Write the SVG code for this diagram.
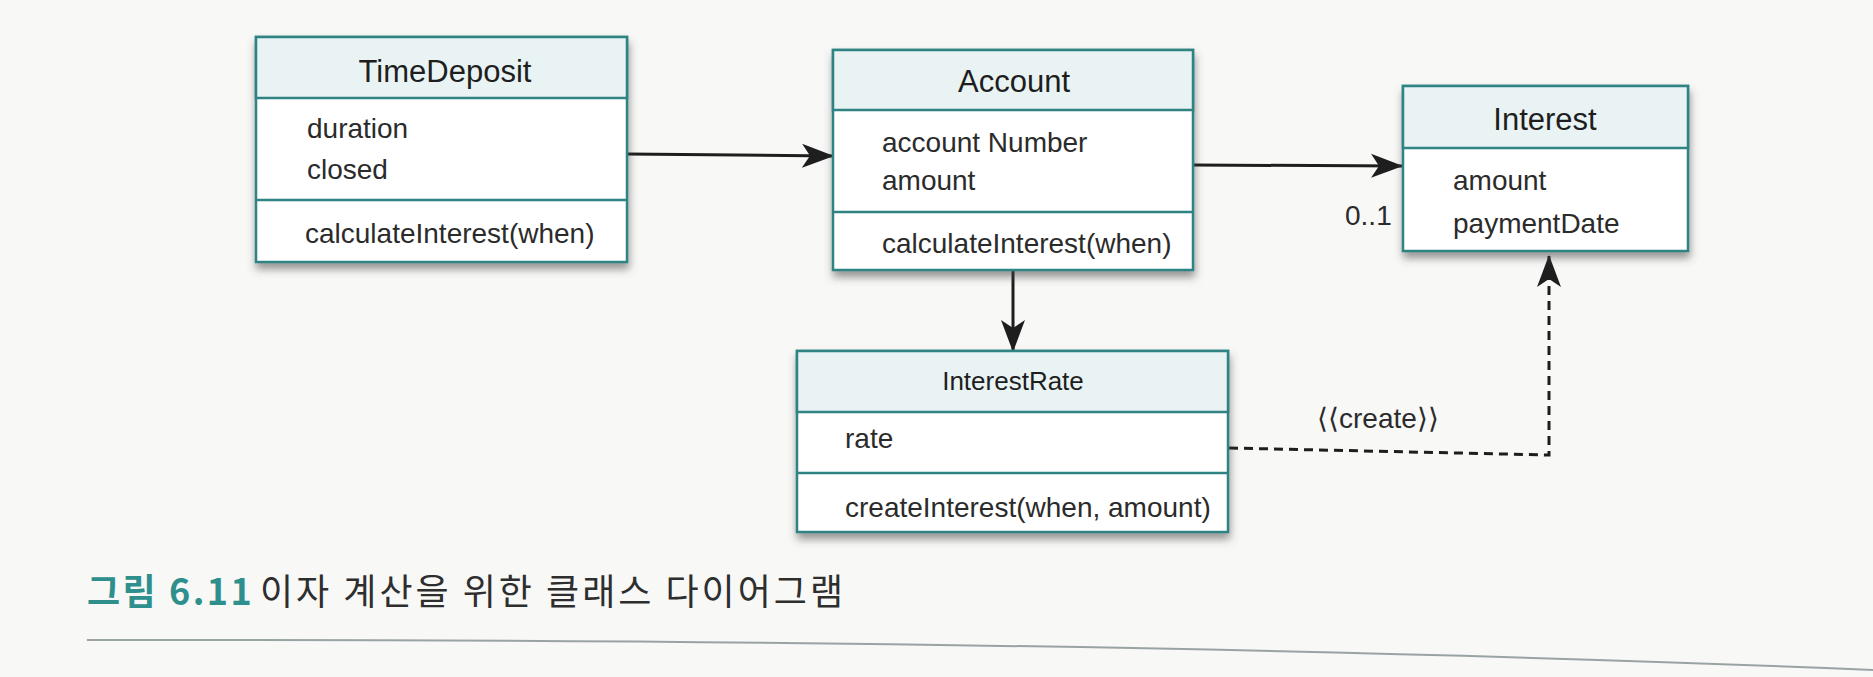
<svg xmlns="http://www.w3.org/2000/svg" width="1873" height="677" viewBox="0 0 1873 677">
  <defs>
    <style>
      .box { fill: #ffffff; stroke: #2f8383; stroke-width: 2.5; }
      .head { fill: #e9f3f4; stroke: #2f8383; stroke-width: 2.5; }
      .sep { stroke: #2f8383; stroke-width: 2.5; }
      .title { font-family: "Liberation Sans", Arial, sans-serif; font-size: 31px; fill: #1e1e1e; text-anchor: middle; }
      .attr { font-family: "Liberation Sans", Arial, sans-serif; font-size: 28px; fill: #2b2b2b; }
      .edge { fill: none; stroke: #1e1e1e; stroke-width: 3; }
      .dash { fill: none; stroke: #1e1e1e; stroke-width: 3; stroke-dasharray: 9 6; }
      .cap { font-family: "Noto Sans CJK KR", "Noto Sans", sans-serif; font-size: 36px; }
    </style>
    <filter id="shadow" x="-10%" y="-10%" width="120%" height="130%">
      <feDropShadow dx="1" dy="6" stdDeviation="4" flood-color="#444" flood-opacity="0.55"/>
    </filter>
    <marker id="arrow" viewBox="0 0 32 26" refX="31" refY="13" markerWidth="32" markerHeight="26" markerUnits="userSpaceOnUse" orient="auto">
      <path d="M0,1 L32,13 L0,25 L8,13 Z" fill="#1e1e1e"/>
    </marker>
  </defs>

  <rect width="1873" height="677" fill="#f8f8f7"/>

  <!-- connectors -->
  <g id="connectors">
    <line class="edge" x1="627" y1="154" x2="833" y2="156" marker-end="url(#arrow)"/>
    <line class="edge" x1="1193" y1="165" x2="1402" y2="166" marker-end="url(#arrow)"/>
    <line class="edge" x1="1013" y1="271" x2="1013" y2="351" marker-end="url(#arrow)"/>
    <polyline class="dash" points="1229,448 1549,455 1549,256" marker-end="url(#arrow)"/>
    <text class="attr" x="1345" y="225">0..1</text>
    <text class="attr" x="1317" y="428">⟨⟨create⟩⟩</text>
  </g>

  <!-- TimeDeposit -->
  <g id="TimeDeposit">
    <rect class="box" x="256" y="37" width="371" height="225" filter="url(#shadow)"/>
    <rect class="head" x="256" y="37" width="371" height="61"/>
    <line class="sep" x1="256" y1="200" x2="627" y2="200"/>
    <text class="title" x="445" y="82">TimeDeposit</text>
    <text class="attr" x="307" y="138">duration</text>
    <text class="attr" x="307" y="179">closed</text>
    <text class="attr" x="305" y="243">calculateInterest(when)</text>
  </g>

  <!-- Account -->
  <g id="Account">
    <rect class="box" x="833" y="50" width="360" height="220" filter="url(#shadow)"/>
    <rect class="head" x="833" y="50" width="360" height="60"/>
    <line class="sep" x1="833" y1="212" x2="1193" y2="212"/>
    <text class="title" x="1014" y="92">Account</text>
    <text class="attr" x="882" y="152">account Number</text>
    <text class="attr" x="882" y="190">amount</text>
    <text class="attr" x="882" y="253">calculateInterest(when)</text>
  </g>

  <!-- Interest -->
  <g id="Interest">
    <rect class="box" x="1403" y="86" width="285" height="165" filter="url(#shadow)"/>
    <rect class="head" x="1403" y="86" width="285" height="62"/>
    <text class="title" x="1545" y="130">Interest</text>
    <text class="attr" x="1453" y="190">amount</text>
    <text class="attr" x="1453" y="233">paymentDate</text>
  </g>

  <!-- InterestRate -->
  <g id="InterestRate">
    <rect class="box" x="797" y="351" width="431" height="181" filter="url(#shadow)"/>
    <rect class="head" x="797" y="351" width="431" height="61"/>
    <line class="sep" x1="797" y1="473" x2="1228" y2="473"/>
    <text class="title" x="1013" y="390" style="font-size:26px">InterestRate</text>
    <text class="attr" x="845" y="448">rate</text>
    <text class="attr" x="845" y="517">createInterest(when, amount)</text>
  </g>

  <!-- caption -->
  <g id="caption">
    <text class="cap" x="87" y="605" fill="#2e8f8c" font-weight="bold" letter-spacing="2.5">그림 6.11</text>
    <text class="cap" x="260" y="605" fill="#2e2e2e" letter-spacing="3">이자 계산을 위한 클래스 다이어그램</text>
    <path d="M87,640 Q1100,638 1873,670" fill="none" stroke="#9aa3a3" stroke-width="2"/>
  </g>
</svg>
